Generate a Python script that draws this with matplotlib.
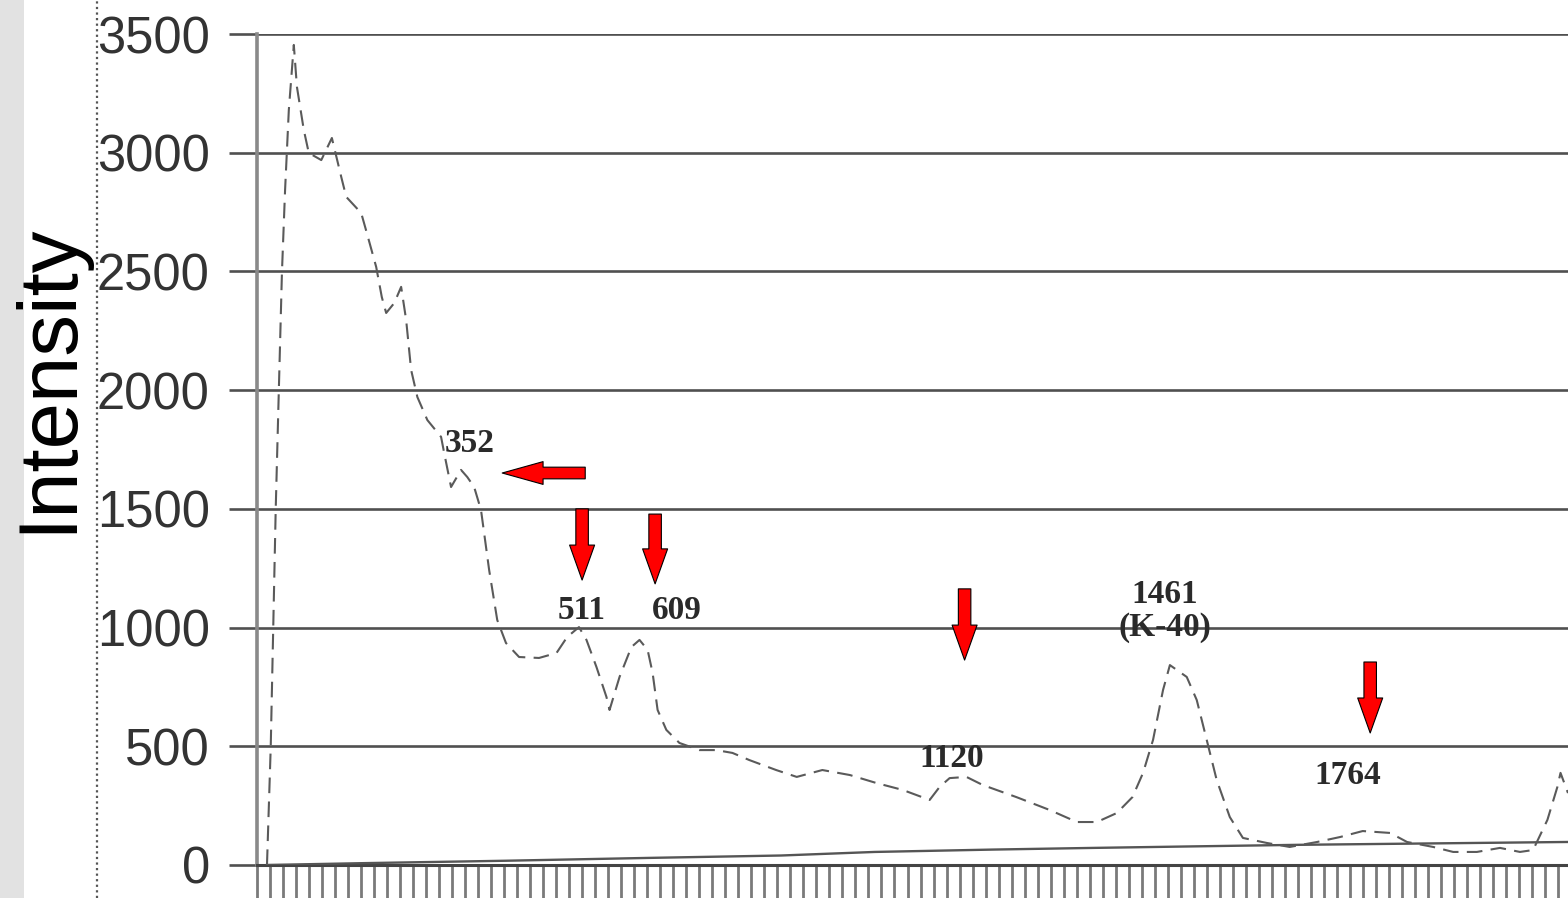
import numpy as np
import matplotlib.pyplot as plt
from matplotlib.patches import Rectangle
from matplotlib.lines import Line2D

# gamma spectrum (energy in keV, counts)
energy = [16, 22, 26, 30, 35, 40, 45, 51, 59, 64, 75, 83, 103, 120, 135, 143, 167, 176,
          191, 200, 207, 220, 231, 239, 247, 257, 273, 295, 300, 311, 327, 337, 348, 359,
          372, 385, 399, 420, 452, 480, 497, 516, 528, 544, 560, 565, 581, 600, 613, 626,
          634, 642, 656, 677, 709, 736, 762, 789, 832, 865, 906, 950, 993, 1035, 1078,
          1094, 1110, 1137, 1163, 1217, 1270, 1314, 1346, 1378, 1403, 1420, 1436, 1452,
          1463, 1490, 1506, 1522, 1538, 1559, 1580, 1618, 1655, 1699, 1736, 1772, 1816,
          1843, 1885, 1917, 1955, 1992, 2024, 2045, 2068, 2084, 2089, 2101]
counts = [0, 497, 998, 1500, 2001, 2498, 2843, 3180, 3454, 3277, 3096, 2999, 2969, 3062,
          2898, 2814, 2746, 2662, 2519, 2392, 2325, 2367, 2435, 2296, 2085, 1971, 1874,
          1803, 1735, 1592, 1664, 1634, 1592, 1495, 1243, 1032, 935, 876, 872, 893, 960,
          1002, 948, 834, 708, 653, 792, 918, 948, 906, 809, 653, 569, 514, 484, 484, 472,
          442, 400, 371, 400, 379, 345, 316, 274, 329, 366, 371, 337, 286, 232, 181, 181,
          219, 286, 388, 527, 737, 842, 792, 695, 527, 358, 202, 114, 93, 76, 97, 118, 143,
          135, 97, 76, 55, 55, 72, 55, 63, 190, 329, 388, 303]

# background / baseline curve
base_energy = [16, 175, 400, 630, 840, 990, 1180, 1340, 1490, 1670, 1850, 2101]
base_counts = [0, 8, 18, 30, 40, 55, 65, 72, 78, 85, 90, 97]

# peak labels
peak_text = ["352", "511", "609", "1120", "1461\n(K-40)", "1764"]
peak_x = [340, 520, 672, 1113, 1455, 1748]
peak_y = [1777, 1074, 1074, 447, 1070, 375]

# red arrows: (tail -> tip)
arrow_tail_x = [526, 521, 638, 1134, 1784]
arrow_tail_y = [1651, 1500, 1478, 1163, 855]
arrow_tip_x = [393, 521, 638, 1134, 1784]
arrow_tip_y = [1651, 1200, 1184, 863, 556]

yticks = [0, 500, 1000, 1500, 2000, 2500, 3000, 3500]

fig = plt.figure(figsize=(15.68, 8.98), dpi=100)
ax = fig.add_axes([257 / 1568, 33 / 898, 1 - 257 / 1568, 831 / 898])

# left grey strip and dotted line
fig.add_artist(Rectangle((0, 0), 24 / 1568, 1, transform=fig.transFigure,
                         facecolor='#e2e2e2', edgecolor='none'))
fig.add_artist(Line2D([97 / 1568, 97 / 1568], [0, 1], transform=fig.transFigure,
                      ls=(0, (1, 1.5)), color='#555555', lw=1.6))

ax.plot(base_energy, base_counts, color='#555555', lw=1.7, zorder=3)
ax.plot(energy, counts, color='#5a5a5a', lw=1.5, ls=(0, (7.5, 4)), zorder=4)

ax.set_xlim(0, 2101)
ax.set_ylim(0, 3500)
ax.set_yticks(yticks)
ax.set_yticklabels([str(v) for v in yticks], fontfamily='Liberation Sans',
                   fontsize=36.5, color='#333333')
ax.yaxis.grid(True, color='#505050', lw=1.9)
ax.set_axisbelow(True)
ax.tick_params(axis='y', length=20, width=1.9, color='#505050', pad=14)
ax.set_xticks(np.arange(0, 2101, 20.85))
ax.tick_params(axis='x', length=30, width=2.0, color='#7a7a7a', labelbottom=False)

for s in ['top', 'right']:
    ax.spines[s].set_visible(False)
ax.spines['left'].set_color('#8a8a8a')
ax.spines['left'].set_linewidth(2.6)
ax.spines['bottom'].set_color('#444444')
ax.spines['bottom'].set_linewidth(2.2)

for t, x, y in zip(peak_text, peak_x, peak_y):
    ax.text(x, y, t, ha='center', va='center', fontsize=24, color='#2a2a2a',
            fontfamily='Liberation Serif', fontweight='bold', linespacing=1.05, zorder=5)

for i in range(len(arrow_tip_x)):
    if i == 0:
        style = 'simple,tail_width=0.42,head_width=0.82,head_length=1.47'
    else:
        style = 'simple,tail_width=0.45,head_width=0.9,head_length=1.26'
    ax.annotate('', xy=(arrow_tip_x[i], arrow_tip_y[i]),
                xytext=(arrow_tail_x[i], arrow_tail_y[i]),
                arrowprops=dict(arrowstyle=style, mutation_scale=20, shrinkA=0, shrinkB=0,
                                facecolor='#ff0000', edgecolor='black', lw=0.8),
                zorder=6)

fig.text(70 / 1568, 1 - 378 / 898, 'Intensity', rotation=90, rotation_mode='anchor',
         ha='center', va='baseline', fontsize=60, fontfamily='Liberation Sans',
         color='black')

fig.savefig('out.png', dpi=100)
